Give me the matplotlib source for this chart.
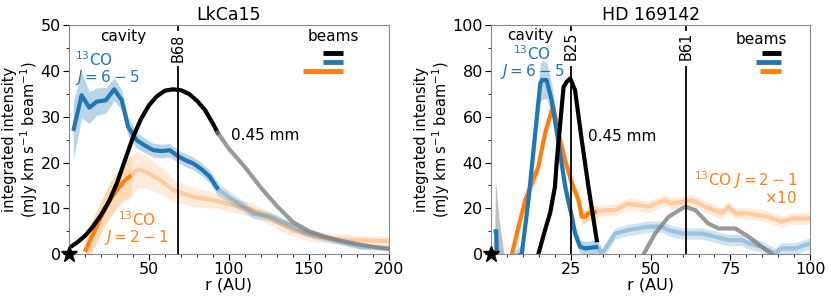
import matplotlib
matplotlib.use('Agg')
import matplotlib.pyplot as plt
import numpy as np

blue = '#1f77b4'
orange = '#ff7f0e'

# ---- LkCa15 ----
lk_cont_r = [2, 5, 10, 15, 20, 25, 30, 35, 40, 45, 50, 55, 60, 65, 70, 75, 80, 85, 90, 93]
lk_cont_v = [1.8, 2.5, 4.0, 6.0, 8.5, 11.5, 15.5, 20.5, 25.5, 29.5, 32.5, 34.5, 35.7, 36.0, 35.8, 35.0, 33.5, 31.5, 28.5, 26.5]
lk_cont_far_r = [93, 100, 110, 120, 130, 140, 150, 160, 170, 180, 190, 200]
lk_cont_far_v = [26.5, 23.0, 19.0, 14.5, 10.5, 7.0, 5.0, 3.8, 2.9, 2.2, 1.6, 1.1]

lk_65_r = [2.7, 7.9, 12.7, 17.3, 23, 28.3, 33, 37, 42.3, 47, 52.7, 58, 63, 69, 73, 77.7, 83, 88, 93.3]
lk_65_v = [26.9, 34.7, 32.0, 33.3, 33.6, 36.0, 33.6, 27.8, 24.9, 23.8, 22.7, 22.5, 22.7, 21.2, 20.5, 19.8, 18.5, 16.9, 14.1]
lk_65_e = [6.5, 5.0, 3.5, 3.0, 2.8, 2.5, 2.2, 2.0, 1.8, 1.6, 1.5, 1.5, 1.5, 1.4, 1.4, 1.4, 1.4, 1.4, 1.4]
lk_65_far_r = [93.3, 102.7, 110, 115, 125, 136, 148.5, 165, 182, 200]
lk_65_far_v = [14.1, 11.8, 10.2, 8.9, 8.3, 6.7, 4.6, 3.1, 1.6, 1.3]
lk_65_far_e = [1.4, 1.3, 1.2, 1.1, 1.0, 0.9, 0.8, 0.7, 0.6, 0.6]

lk_21_r = [10, 13, 17.3, 21, 25.6, 30, 34, 39]
lk_21_v = [0.5, 2.8, 6.0, 8.8, 11.8, 14.0, 15.8, 17.2]
lk_21_e = [3.5, 3.5, 3.5, 3.5, 3.8, 4.0, 4.2, 4.5]
lk_21_far_r = [39, 43, 48.6, 57, 65, 77.6, 90, 102.7, 115, 127.7, 140, 154.8, 175.6, 200]
lk_21_far_v = [17.2, 18.5, 17.9, 16.2, 14.0, 12.5, 11.8, 10.7, 9.6, 7.4, 5.2, 3.8, 3.1, 2.8]
lk_21_far_e = [4.5, 4.0, 3.5, 3.0, 2.5, 2.0, 1.8, 1.6, 1.5, 1.4, 1.3, 1.2, 1.1, 1.0]

# ---- HD 169142 ----
hd_cont_r = [14.8, 16.9, 18.5, 20.0, 20.6, 22.7, 23.7, 24.8, 26.3, 28.4, 30.5, 33.1]
hd_cont_v = [0.0, 10.5, 18, 29.4, 41.0, 73.0, 75.3, 76.7, 71.6, 49.8, 29.4, 6.1]
hd_cont_far_r = [47.8, 51.4, 55.6, 60.8, 64, 68, 71.3, 76.5, 80.7, 84.8, 88]
hd_cont_far_v = [0.0, 9.0, 16.3, 20.7, 19.2, 13.4, 11.2, 11.2, 7.6, 3.2, 0.0]
hd_cont_in_r = [1.0, 1.4, 2.5, 4.0]
hd_cont_in_v = [0.0, 32.0, 15.0, 0.0]

hd_65_r = [0.8, 1.6, 1.8, 9.6, 11.7, 13.8, 15.4, 15.9, 17.4, 19, 21, 23.2, 25.3, 26.3, 27.9, 29.5, 33.6]
hd_65_v = [10.0, 10.0, -5.0, 0.0, 23.6, 52.7, 74.5, 76.0, 76.0, 67.0, 49.8, 29.4, 16.3, 9.0, 3.2, 2.5, 3.2]
hd_65_e = [1.0, 1.0, 1.0, 4.0, 5.0, 7.0, 8.0, 8.5, 8.0, 7.0, 6.0, 5.0, 4.0, 3.5, 3.0, 3.0, 3.0]
hd_65_far_r = [33.6, 34.7, 38.9, 43, 49.3, 53.5, 55.6, 59.8, 66, 70.2, 74.4, 78.6, 80.7, 84.8, 89, 91, 95.3, 100]
hd_65_far_v = [3.2, 0.0, 9.0, 10.5, 12.0, 12.0, 10.5, 9.0, 9.0, 7.6, 6.1, 6.1, 4.7, 3.2, 0.3, 2.5, 2.5, 4.7]

hd_21_r = [6.5, 8.6, 10.7, 12.7, 14.8, 16.9, 19, 19.5, 21.1, 23.2, 25.3, 27.4, 28.4, 29.5, 30.5, 33.1]
hd_21_v = [0.0, 12.0, 23.6, 30.9, 38.0, 52.7, 63.0, 64.3, 52.7, 41.0, 30.9, 23.6, 16.3, 16.3, 17.8, 18.5]
hd_21_far_r = [33.1, 35.7, 38.9, 43, 49.3, 54.5, 56.6, 63, 67.1, 72.3, 74.4, 76.5, 80.7, 86.9, 91, 94.3, 100]
hd_21_far_v = [18.5, 19.2, 19.2, 22.0, 20.7, 23.6, 22.1, 23.6, 20.7, 17.8, 20.7, 17.8, 17.8, 16.3, 14.1, 15.6, 15.6]

plt.rcParams['font.size'] = 11

fig = plt.figure(figsize=(8.31, 3.0), dpi=100)
ax1 = fig.add_axes([0.083, 0.153, 0.385, 0.763])
ax2 = fig.add_axes([0.591, 0.153, 0.384, 0.763])


def style_axes(ax):
    for s in ax.spines.values():
        s.set_color('#888888')
    ax.tick_params(which='major', length=4, pad=2, labelsize=11.5)
    ax.tick_params(which='minor', length=2)
    ax.set_xlabel('r (AU)', fontsize=11.5, labelpad=0)
    ax.set_ylabel('integrated intensity\n(mJy km s$^{-1}$ beam$^{-1}$)', fontsize=10.5, labelpad=0,
                  linespacing=1.1)
    ax.plot([0], [0], marker='*', color='k', markersize=12, clip_on=False, zorder=10)


def band(ax, r, v, e, color, a_line, a_fill):
    r = np.array(r); v = np.array(v); e = np.array(e)
    ax.fill_between(r, v - e, v + e, color=color, alpha=a_fill, lw=0)
    ax.plot(r, v, color=color, lw=3, alpha=a_line, solid_capstyle='butt')


# LkCa15 panel
ax = ax1
band(ax, lk_21_r, lk_21_v, lk_21_e, orange, 1.0, 0.3)
band(ax, lk_21_far_r, lk_21_far_v, lk_21_far_e, orange, 0.3, 0.15)
band(ax, lk_65_r, lk_65_v, lk_65_e, blue, 1.0, 0.3)
band(ax, lk_65_far_r, lk_65_far_v, lk_65_far_e, blue, 0.3, 0.2)
ax.plot(lk_cont_r, lk_cont_v, color='k', lw=3)
ax.plot(lk_cont_far_r, lk_cont_far_v, color='grey', lw=3, alpha=0.8)
ax.vlines(68, 0, 41, color='k', lw=1.3)
ax.text(68, 42, 'B68', rotation=90, ha='center', va='bottom', fontsize=10.5)
ax.plot([68, 68], [49, 50], color='k', lw=1.3)
ax.text(34, 47.5, 'cavity', ha='center', va='center', fontsize=11)
ax.text(165, 47.5, 'beams', ha='center', va='center', fontsize=11)
ax.plot([159, 171], [44, 44], color='k', lw=3.5, solid_capstyle='butt')
ax.plot([159, 171], [42, 42], color=blue, lw=3.5, solid_capstyle='butt')
ax.plot([146, 171], [40, 40], color=orange, lw=3.5, solid_capstyle='butt')
ax.text(4, 40.5, '$^{13}$CO\n$J=6-5$', color=blue, ha='left', va='center', fontsize=11,
        linespacing=0.95)
ax.text(101, 26, '0.45 mm', ha='left', va='center', fontsize=11)
ax.text(42.3, 5.6, '$^{13}$CO\n$J=2-1$', color=orange, ha='center', va='center', fontsize=11,
        multialignment='center', linespacing=0.95)
ax.set_xlim(0, 200)
ax.set_ylim(0, 50)
ax.set_xticks([50, 100, 150, 200])
ax.set_xticks(np.arange(10, 200, 10), minor=True)
ax.set_yticks([0, 10, 20, 30, 40, 50])
ax.set_yticks(np.arange(5, 50, 10), minor=True)
ax.set_title('LkCa15', fontsize=12.5, pad=4)
style_axes(ax)

# HD 169142 panel
ax = ax2
ax.fill_between(hd_cont_in_r, 0, hd_cont_in_v, color='grey', alpha=0.5, lw=0)
band(ax, hd_21_r, hd_21_v, [3] * len(hd_21_r), orange, 1.0, 0.3)
band(ax, hd_21_far_r, hd_21_far_v, [2.5] * len(hd_21_far_r), orange, 0.3, 0.15)
band(ax, hd_65_r, hd_65_v, hd_65_e, blue, 1.0, 0.3)
band(ax, hd_65_far_r, hd_65_far_v, [2.5] * len(hd_65_far_r), blue, 0.3, 0.2)
ax.plot(hd_cont_r, hd_cont_v, color='k', lw=3)
ax.plot(hd_cont_far_r, hd_cont_far_v, color='grey', lw=3, alpha=0.8)
for rb, lab in [(25, 'B25'), (61, 'B61')]:
    ax.vlines(rb, 0, 82, color='k', lw=1.3)
    ax.text(rb, 85, lab, rotation=90, ha='center', va='bottom', fontsize=10.5)
    ax.plot([rb, rb], [98, 100], color='k', lw=1.3)
ax.text(12.2, 95.5, 'cavity', ha='center', va='center', fontsize=11)
ax.text(84.8, 93.7, 'beams', ha='center', va='center', fontsize=11)
ax.plot([84.8, 90.9], [88, 88], color='k', lw=3.5, solid_capstyle='butt')
ax.plot([83, 90.9], [84, 84], color=blue, lw=3.5, solid_capstyle='butt')
ax.plot([84.3, 90.9], [80, 80], color=orange, lw=3.5, solid_capstyle='butt')
ax.text(12.9, 83.5, '$^{13}$CO\n$J=6-5$', color=blue, ha='center', va='center', fontsize=11,
        multialignment='center', linespacing=0.95)
ax.text(30.3, 51.2, '0.45 mm', ha='left', va='center', fontsize=11)
ax.text(96, 29, '$^{13}$CO $J=2-1$\n$\\times$10', color=orange, ha='right', va='center',
        fontsize=11, multialignment='right', linespacing=0.95)
ax.set_xlim(0, 100)
ax.set_ylim(0, 100)
ax.set_xticks([25, 50, 75, 100])
ax.set_xticks(np.arange(5, 100, 5), minor=True)
ax.set_yticks([0, 20, 40, 60, 80, 100])
ax.set_yticks(np.arange(10, 100, 20), minor=True)
ax.set_title('HD 169142', fontsize=12.5, pad=4)
style_axes(ax)

fig.savefig('out.png', dpi=100)
